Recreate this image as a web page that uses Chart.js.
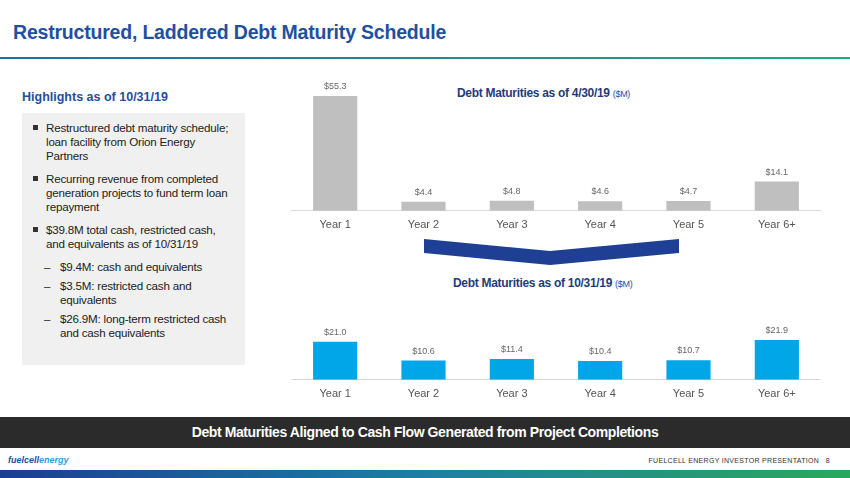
<!DOCTYPE html><html><head><meta charset="utf-8">
<script src="https://cdn.jsdelivr.net/npm/chart.js@4"></script>
<style>
body{margin:0;width:850px;height:478px;position:relative;font-family:"Liberation Sans",Arial,sans-serif;background:#fff;overflow:hidden}
.a{position:absolute}
#title{left:13px;top:21px;font-size:19.5px;font-weight:bold;color:#1f4f9e;letter-spacing:-0.2px}
#line{left:0;top:57px;width:850px;height:2px;background:linear-gradient(90deg,#1d6ea8,#2aa67a)}
#hl{left:22px;top:90px;font-size:12.5px;font-weight:bold;color:#1f4f9e}
#box{left:22px;top:113px;width:223px;height:252px;background:#f0f0f0}
#box ul{margin:0;padding:8px 8px 0 10px;list-style:none;font-size:11.6px;color:#222;line-height:14px;letter-spacing:-0.2px}
#box li{position:relative;padding-left:14px;margin-bottom:9px}
#box li:before{content:"";position:absolute;left:1px;top:4px;width:5px;height:5px;background:#333}
#box li.s{padding-left:28px;margin-bottom:5px}
#box li.s:before{content:"–";background:none;left:12px;top:0;width:auto;height:auto}
.ct{font-size:12px;font-weight:bold;color:#1f3c7a;letter-spacing:-0.3px}
.ct span{font-size:9px;font-weight:normal;color:#1f4f9e}
#band{left:0;top:417px;width:850px;height:31px;background:#2b2b2b;color:#fff;font-weight:bold;font-size:14px;letter-spacing:-0.4px;text-align:center;line-height:31px}
#foot{right:20px;top:457px;font-size:7px;color:#333;letter-spacing:0.3px}
#logo{left:8px;top:455px;font-size:9px;font-style:italic;font-weight:bold;color:#1f4f9e}
#grad{left:0;top:470px;width:850px;height:8px;background:linear-gradient(90deg,#1b3f8f,#1d7fa4,#2aa85c)}
</style></head><body>
<div class="a" id="title">Restructured, Laddered Debt Maturity Schedule</div>
<div class="a" id="line"></div>
<div class="a" id="hl">Highlights as of 10/31/19</div>
<div class="a" id="box"><ul>
<li>Restructured debt maturity schedule; loan facility from Orion Energy Partners</li>
<li>Recurring revenue from completed generation projects to fund term loan repayment</li>
<li>$39.8M total cash, restricted cash, and equivalents as of 10/31/19</li>
<li class="s">$9.4M: cash and equivalents</li>
<li class="s">$3.5M: restricted cash and equivalents</li>
<li class="s">$26.9M: long-term restricted cash and cash equivalents</li>
</ul></div>
<div class="a ct" style="left:457px;top:86px">Debt Maturities as of 4/30/19 <span>($M)</span></div>
<div class="a ct" style="left:453px;top:276px">Debt Maturities as of 10/31/19 <span>($M)</span></div>
<svg class="a" style="left:0;top:0" width="850" height="478"><polygon points="424,239 550,251 679,239 679,253 550,265 424,253" fill="#1e3f94"/></svg>
<div class="a" style="left:291px;top:80px;width:530px;height:160px"><canvas id="c1"></canvas></div>
<div class="a" style="left:291px;top:311px;width:530px;height:98px"><canvas id="c2"></canvas></div>
<div class="a" id="band">Debt Maturities Aligned to Cash Flow Generated from Project Completions</div>
<div class="a" id="logo">fuelcell<span style="color:#2aa0d8">energy</span></div>
<div class="a" id="foot">FUELCELL ENERGY INVESTOR PRESENTATION &nbsp; 8</div>
<div class="a" id="grad"></div>
<script>
const categories=["Year 1","Year 2","Year 3","Year 4","Year 5","Year 6+"];
const apr2019=[55.3,4.4,4.8,4.6,4.7,14.1];
const oct2019=[21.0,10.6,11.4,10.4,10.7,21.9];
const lbl={id:"lbl",afterDatasetsDraw(c){const x=c.ctx;x.save();x.font="9px 'Liberation Sans',Arial";x.fillStyle="#666";x.textAlign="center";
c.getDatasetMeta(0).data.forEach((b,i)=>{x.fillText("$"+c.data.datasets[0].data[i].toFixed(1),b.x,b.y-7)});x.restore();}};
function mk(id,data,color,max,top){
new Chart(document.getElementById(id),{type:"bar",data:{labels:categories,datasets:[{data,backgroundColor:color,categoryPercentage:1,barPercentage:0.5}]},
options:{responsive:true,maintainAspectRatio:false,animation:false,layout:{padding:{top:top}},plugins:{legend:{display:false},tooltip:{enabled:false}},
scales:{x:{grid:{display:false,drawTicks:false},border:{color:"#d9d9d9"},ticks:{color:"#555",font:{size:11,family:"'Liberation Sans',Arial"},padding:8}},
y:{display:false,min:0,max:max}}},plugins:[lbl]});}
mk("c1",apr2019,"#bfbfbf",55.3,16);
mk("c2",oct2019,"#00a6e8",21.9,29);
</script></body></html>
